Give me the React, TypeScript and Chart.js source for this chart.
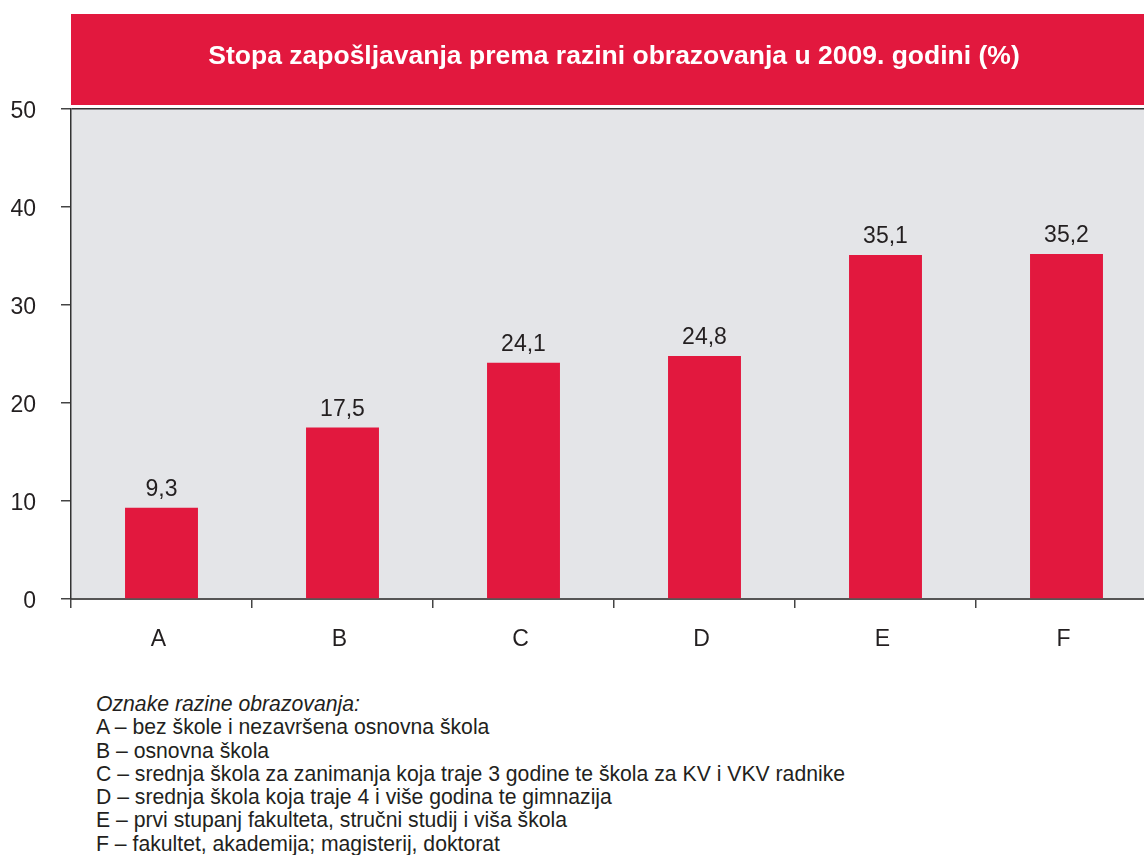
import React, { useEffect, useRef } from "react";
import { Chart, registerables } from "chart.js";

Chart.register(...registerables);

const TITLE = "Stopa zapošljavanja prema razini obrazovanja u 2009. godini (%)";
const CATEGORIES = ["A", "B", "C", "D", "E", "F"];
const VALUES = [9.3, 17.5, 24.1, 24.8, 35.1, 35.2];
const Y_MIN = 0;
const Y_MAX = 50;
const Y_STEP = 10;
const NOTE_HEADER = "Oznake razine obrazovanja:";
const NOTE_LINES = [
  "A – bez škole i nezavršena osnovna škola",
  "B – osnovna škola",
  "C – srednja škola za zanimanja koja traje 3 godine te škola za KV i VKV radnike",
  "D – srednja škola koja traje 4 i više godina te gimnazija",
  "E – prvi stupanj fakulteta, stručni studij i viša škola",
  "F – fakultet, akademija; magisterij, doktorat",
];

const RED = "#E2183E";
const PLOT_BG = "#E4E5E8";
const TEXT = "#231F20";
const FONT = "'Liberation Sans', Arial, Helvetica, sans-serif";

const fmt = (v: number) => v.toFixed(1).replace(".", ",");

export default function App() {
  const ref = useRef<HTMLCanvasElement | null>(null);

  useEffect(() => {
    const canvas = ref.current;
    if (!canvas) return;

    const decor = {
      id: "decor",
      beforeDraw(chart: any) {
        const { ctx, chartArea } = chart;
        ctx.save();
        ctx.fillStyle = PLOT_BG;
        ctx.fillRect(chartArea.left, chartArea.top, chartArea.right - chartArea.left, chartArea.bottom - chartArea.top);
        // banner
        ctx.fillStyle = RED;
        ctx.fillRect(chartArea.left, 14, chartArea.right - chartArea.left, 91);
        ctx.fillStyle = "#FFFFFF";
        ctx.font = `bold 26.5px ${FONT}`;
        ctx.textAlign = "center";
        ctx.textBaseline = "middle";
        ctx.fillText(TITLE, (chartArea.left + chartArea.right) / 2, 57);
        ctx.restore();
      },
      afterDatasetsDraw(chart: any) {
        const { ctx } = chart;
        const meta = chart.getDatasetMeta(0);
        ctx.save();
        ctx.fillStyle = TEXT;
        ctx.font = `23px ${FONT}`;
        ctx.textAlign = "center";
        ctx.textBaseline = "alphabetic";
        meta.data.forEach((bar: any, i: number) => {
          ctx.fillText(fmt(VALUES[i]), bar.x, bar.y - 12);
        });
        ctx.restore();
      },
    };

    const chart = new Chart(canvas, {
      type: "bar",
      data: {
        labels: CATEGORIES,
        datasets: [
          {
            data: VALUES,
            backgroundColor: RED,
            borderWidth: 0,
            barPercentage: 0.403,
            categoryPercentage: 1,
          },
        ],
      },
      options: {
        animation: false,
        responsive: false,
        maintainAspectRatio: false,
        devicePixelRatio: 1,
        layout: { padding: { top: 109, left: 0, right: 0, bottom: 0 } },
        plugins: {
          legend: { display: false },
          title: { display: false },
          tooltip: { enabled: false },
        },
        scales: {
          x: {
            offset: true,
            grid: {
              offset: true,
              color: "transparent",
              tickColor: "#444",
              tickLength: 9,
              lineWidth: 1.5,
              drawTicks: true,
            },
            border: { display: true, color: "#555", width: 2 },
            ticks: {
              color: TEXT,
              font: { family: FONT, size: 23 },
              padding: 18,
              labelOffset: -3,
            },
            afterFit(scale: any) {
              scale.height = 81;
            },
          },
          y: {
            min: Y_MIN,
            max: Y_MAX,
            ticks: {
              stepSize: Y_STEP,
              color: TEXT,
              font: { family: FONT, size: 23 },
              padding: 25,
              labelOffset: 3,
            },
            grid: {
              color: (c: any) => (c.tick && c.tick.value === Y_MAX ? "#333" : "transparent"),
              tickColor: "#444",
              tickLength: 10,
              lineWidth: 1.5,
            },
            border: { display: true, color: "#333", width: 1.5 },
            afterFit(scale: any) {
              scale.width = 71;
            },
          },
        },
      },
      plugins: [decor],
    });

    return () => chart.destroy();
  }, []);

  return (
    <div
      style={{
        position: "fixed",
        left: 0,
        top: 0,
        width: 1144,
        height: 855,
        overflow: "hidden",
        background: "#FFFFFF",
      }}
    >
      <canvas ref={ref} width={1157} height={680} style={{ position: "absolute", left: 0, top: 0, width: 1157, height: 680 }} />
      <div
        style={{
          position: "absolute",
          left: 96,
          top: 692,
          fontFamily: FONT,
          fontSize: 21.2,
          lineHeight: "23.25px",
          color: TEXT,
          whiteSpace: "nowrap",
        }}
      >
        <div style={{ fontStyle: "italic" }}>{NOTE_HEADER}</div>
        {NOTE_LINES.map((l) => (
          <div key={l}>{l}</div>
        ))}
      </div>
    </div>
  );
}
